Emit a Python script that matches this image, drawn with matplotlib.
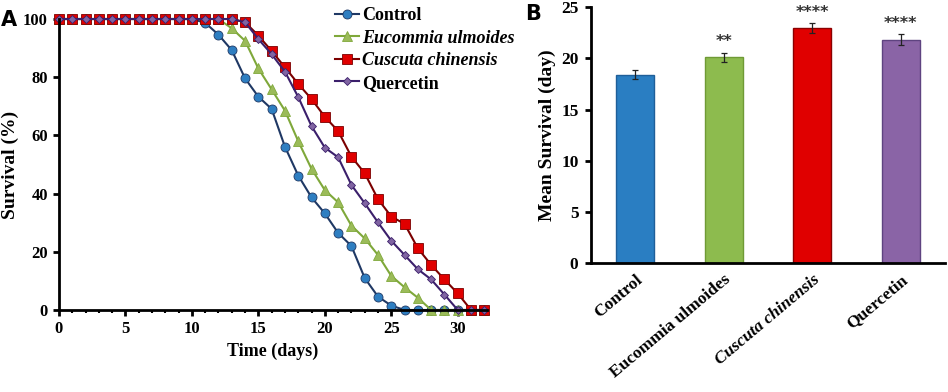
import numpy as np
import matplotlib.pyplot as plt
from matplotlib.ticker import MultipleLocator

plt.rcParams['font.family'] = ['Liberation Serif', 'DejaVu Serif']
plt.rcParams['font.weight'] = 'bold'

# Panel A: survival curves (days 0..32)
days = np.arange(0, 33)
control = [100] * 11 + [98.7, 94.6, 89.3, 79.6, 73.3, 69.1, 56.1, 46.2, 38.7, 33.2,
                        26.5, 22.0, 11.0, 4.6, 1.5] + [0] * 7
eucommia = [100] * 13 + [96.8, 92.5, 83.0, 75.8, 68.5, 58.0, 48.5, 41.2, 37.0, 29.0,
                         24.6, 18.9, 11.7, 7.8, 4.2] + [0] * 5
cuscuta = [100] * 14 + [98.9, 94.3, 89.0, 83.4, 77.7, 72.5, 66.4, 61.5, 52.7, 47.0,
                        38.1, 32.1, 29.6, 21.2, 15.5, 10.5, 5.7] + [0] * 2
quercetin = [100] * 14 + [98.9, 93.1, 87.9, 81.9, 73.2, 63.2, 55.8, 52.5, 43.0, 36.7,
                          30.1, 23.8, 18.9, 14.0, 10.5, 5.3] + [0] * 3

# Panel B: mean survival
groups = ['Control', 'Eucommia ulmoides', 'Cuscuta chinensis', 'Quercetin']
mean_surv = [18.4, 20.1, 22.95, 21.85]
sem_surv = [0.45, 0.45, 0.5, 0.5]
stars = ['', '**', '****', '****']

fig = plt.figure(figsize=(9.48, 3.92), dpi=100)

# ---------- A ----------
ax = fig.add_axes([0.0622, 0.2092, 0.4515, 0.7423])
series = [
    (control, 'Control', '#1F3864', '#2E7EC1', 'o', 6.5, 'normal'),
    (eucommia, 'Eucommia ulmoides', '#7FA83A', '#9BBB59', '^', 7, 'italic'),
    (cuscuta, 'Cuscuta chinensis', '#7B0000', '#E00000', 's', 6.5, 'italic'),
    (quercetin, 'Quercetin', '#3B1F6B', '#8064A2', 'D', 4.5, 'normal'),
]
for vals, lab, lc, mc, mk, ms, st in series:
    ax.plot(days, vals, color=lc, lw=1.5, marker=mk, ms=ms, mfc=mc,
            mec=lc, mew=0.6, label=lab, clip_on=False)

ax.set_xlim(0, 32.2)
ax.set_ylim(0, 100)
ax.xaxis.set_major_locator(MultipleLocator(5))
ax.xaxis.set_minor_locator(MultipleLocator(1))
ax.yaxis.set_major_locator(MultipleLocator(20))
for s in ['top', 'right']:
    ax.spines[s].set_visible(False)
for s in ['left', 'bottom']:
    ax.spines[s].set_linewidth(2)
ax.tick_params(axis='both', which='major', width=2, length=4, labelsize=12, pad=4)
ax.tick_params(axis='x', which='minor', width=1.5, length=2.5)
ax.set_xlabel('Time (days)', fontsize=13, fontweight='bold')
ax.set_ylabel('Survival (%)', fontsize=14, fontweight='bold', labelpad=3)

leg = ax.legend(loc='upper left', bbox_to_anchor=(0.645, 1.04), frameon=False,
                fontsize=13, handlelength=1.3, handletextpad=0.2, labelspacing=0.3,
                borderpad=0, borderaxespad=0)
for t, (_, _, _, _, _, _, st) in zip(leg.get_texts(), series):
    t.set_fontstyle(st)
    t.set_fontweight('bold')

fig.text(0.001, 0.975, 'A', fontsize=15, fontweight='bold', family='DejaVu Sans',
         va='top')

# ---------- B ----------
bx = fig.add_axes([0.6234, 0.3283, 0.3734, 0.6531])
xpos = np.arange(len(groups))
bar_colors = ['#2A7EC2', '#8DBB4E', '#E00000', '#8A64A6']
edge_colors = ['#1F5F99', '#6F9A35', '#8B0000', '#5E4380']
bx.bar(xpos, mean_surv, width=0.43, color=bar_colors, edgecolor=edge_colors, lw=1)
bx.errorbar(xpos, mean_surv, yerr=sem_surv, fmt='none', ecolor='#222222',
            elinewidth=0.9, capsize=2.5, capthick=0.9)
for x, m, e, s in zip(xpos, mean_surv, sem_surv, stars):
    if s:
        bx.text(x, m + e + 0.35, s, ha='center', va='bottom', fontsize=11.5,
                fontweight='bold', family='DejaVu Sans', color='#333333')

bx.set_xlim(-0.5, 3.5)
bx.set_ylim(0, 25)
bx.yaxis.set_major_locator(MultipleLocator(5))
for s in ['top', 'right']:
    bx.spines[s].set_visible(False)
for s in ['left', 'bottom']:
    bx.spines[s].set_linewidth(2)
bx.tick_params(axis='y', width=2, length=4, labelsize=12.5, pad=5)
bx.tick_params(axis='x', length=0, pad=6)
bx.set_xticks(xpos)
bx.set_xticklabels(groups, rotation=40, ha='right', rotation_mode='anchor',
                   fontsize=12.5, fontweight='bold')
bx.get_xticklabels()[2].set_fontstyle('italic')
bx.set_ylabel('Mean Survival (day)', fontsize=14, fontweight='bold')

fig.text(0.554, 0.99, 'B', fontsize=15, fontweight='bold', family='DejaVu Sans',
         va='top')

fig.savefig('out.png', dpi=100)
